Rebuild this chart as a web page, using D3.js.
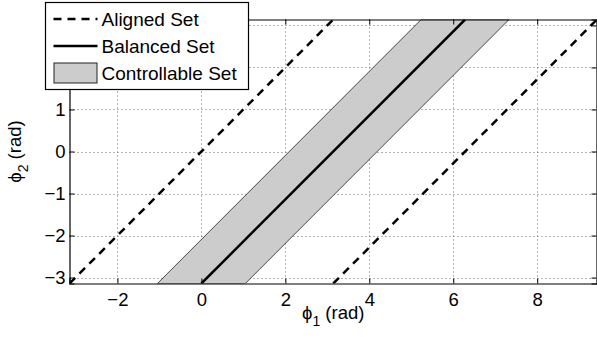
<!DOCTYPE html>
<html>
<head>
<meta charset="utf-8">
<script src="https://cdn.jsdelivr.net/npm/d3@7"></script>
<style>
  html, body { margin: 0; padding: 0; background: #fff; }
  svg { display: block; font-family: "Liberation Sans", Arial, Helvetica, sans-serif; }
</style>
</head>
<body>
<svg id="chart" width="597" height="337"></svg>
<script>
const PI = 3.14159265

// axis ranges and ticks
const xDomain = [-PI, 3 * PI]
const yDomain = [-PI, PI]
const xTicks = [-2, 0, 2, 4, 6, 8]
const yTicks = [-3, -2, -1, 0, 1, 2, 3]

// phi2 = phi1 (and wrapped by 2pi)
const alignedSet = [
  [[-PI, -PI], [PI, PI]],
  [[PI, -PI], [3 * PI, PI]]
]
// phi2 = phi1 - pi
const balancedSet = [[0, -PI], [2 * PI, PI]]
// balanced set +/- pi/3
const controllableSet = [[-1.0472, -PI], [1.0472, -PI], [7.3304, PI], [5.2360, PI]]

const legendItems = ['Aligned Set', 'Balanced Set', 'Controllable Set']

const margin = { left: 69.5, top: 19.5, right: 597, bottom: 283.5 }
const FONT = 18.5
const PHI = '\u03d5'

const svg = d3.select('#chart')

const x = d3.scaleLinear().domain(xDomain).range([margin.left, margin.right])
const y = d3.scaleLinear().domain(yDomain).range([margin.bottom, margin.top])

svg.append('defs').append('clipPath').attr('id', 'plot-clip')
  .append('rect')
  .attr('x', margin.left)
  .attr('y', margin.top)
  .attr('width', margin.right - margin.left)
  .attr('height', margin.bottom - margin.top)

// grid
const grid = svg.append('g').attr('class', 'grid')
grid.selectAll('line.vx')
  .data(xTicks)
  .join('line')
  .attr('x1', d => Math.round(x(d)) + 0.5)
  .attr('x2', d => Math.round(x(d)) + 0.5)
  .attr('y1', margin.top)
  .attr('y2', margin.bottom)
  .attr('stroke', '#666')
  .attr('stroke-width', 1)
  .attr('stroke-dasharray', '1,3')
grid.selectAll('line.hy')
  .data(yTicks)
  .join('line')
  .attr('x1', margin.left)
  .attr('x2', margin.right)
  .attr('y1', d => Math.round(y(d)) + 0.5)
  .attr('y2', d => Math.round(y(d)) + 0.5)
  .attr('stroke', '#666')
  .attr('stroke-width', 1)
  .attr('stroke-dasharray', '1,3')

const plot = svg.append('g').attr('clip-path', 'url(#plot-clip)')

const line = d3.line().x(d => x(d[0])).y(d => y(d[1]))

plot.append('path')
  .datum(controllableSet)
  .attr('d', d => line(d) + 'Z')
  .attr('fill', '#cccccc')
  .attr('stroke', '#222')
  .attr('stroke-width', 0.8)

plot.append('path')
  .datum(balancedSet)
  .attr('d', line)
  .attr('fill', 'none')
  .attr('stroke', '#000')
  .attr('stroke-width', 2.5)

plot.selectAll('path.aligned')
  .data(alignedSet)
  .join('path')
  .attr('class', 'aligned')
  .attr('d', line)
  .attr('fill', 'none')
  .attr('stroke', '#000')
  .attr('stroke-width', 2.5)
  .attr('stroke-dasharray', '8,6')

// axes (MATLAB style: inward ticks on all four sides)
const TICK = 5
const fmt = d => d3.format('d')(d).replace('-', '\u2212')
const axisBottom = d3.axisBottom(x).tickValues(xTicks).tickSize(-TICK).tickPadding(9).tickFormat(fmt)
const axisLeft = d3.axisLeft(y).tickValues(yTicks).tickSize(-TICK).tickPadding(4).tickFormat(fmt)

const gx = svg.append('g')
  .attr('transform', `translate(0,${margin.bottom})`)
  .call(axisBottom)
const gy = svg.append('g')
  .attr('transform', `translate(${margin.left},0)`)
  .call(axisLeft)
const gxTop = svg.append('g')
  .attr('transform', `translate(0,${margin.top})`)
  .call(d3.axisTop(x).tickValues(xTicks).tickSize(-TICK).tickFormat(''))
const gyRight = svg.append('g')
  .attr('transform', `translate(${margin.right - 0.5},0)`)
  .call(d3.axisRight(y).tickValues(yTicks).tickSize(-TICK).tickFormat(''))

;[gx, gy, gxTop, gyRight].forEach(g => {
  g.select('.domain').attr('stroke', '#000').attr('stroke-width', 1.2)
  g.selectAll('.tick line').attr('stroke', '#000')
  g.selectAll('.tick text').attr('font-size', FONT).attr('fill', '#000')
    .attr('font-family', '"Liberation Sans", Arial, sans-serif')
})

// axis labels
const xl = svg.append('text')
  .attr('x', (margin.left + margin.right) / 2)
  .attr('y', 319)
  .attr('text-anchor', 'middle')
  .attr('font-size', FONT)
xl.append('tspan').text(PHI)
xl.append('tspan').attr('font-size', 14).attr('dy', 7).text('1')
xl.append('tspan').attr('dy', -7).text(' (rad)')

const yl = svg.append('text')
  .attr('transform', `translate(21,${(margin.top + margin.bottom) / 2}) rotate(-90)`)
  .attr('text-anchor', 'middle')
  .attr('font-size', FONT)
yl.append('tspan').text(PHI)
yl.append('tspan').attr('font-size', 14).attr('dy', 7).text('2')
yl.append('tspan').attr('dy', -7).text(' (rad)')

// legend
const legend = svg.append('g').attr('transform', 'translate(45.5,2.5)')
legend.append('rect')
  .attr('width', 203)
  .attr('height', 87)
  .attr('fill', '#fff')
  .attr('stroke', '#000')
  .attr('stroke-width', 1.2)

const rows = legend.selectAll('g.row')
  .data(legendItems)
  .join('g')
  .attr('class', 'row')
  .attr('transform', (d, i) => `translate(0,${16.5 + i * 27})`)

rows.each(function (d, i) {
  const g = d3.select(this)
  if (i === 0) {
    g.append('line').attr('x1', 8).attr('x2', 52).attr('y1', 0).attr('y2', 0)
      .attr('stroke', '#000').attr('stroke-width', 2.5).attr('stroke-dasharray', '8,6')
  } else if (i === 1) {
    g.append('line').attr('x1', 8).attr('x2', 52).attr('y1', 0).attr('y2', 0)
      .attr('stroke', '#000').attr('stroke-width', 2.5)
  } else {
    g.append('rect').attr('x', 8.5).attr('y', -10).attr('width', 43).attr('height', 20)
      .attr('fill', '#cccccc').attr('stroke', '#222').attr('stroke-width', 1)
  }
  g.append('text')
    .attr('x', 56)
    .attr('y', 7)
    .attr('font-size', 19)
    .text(d)
})
</script>
</body>
</html>
